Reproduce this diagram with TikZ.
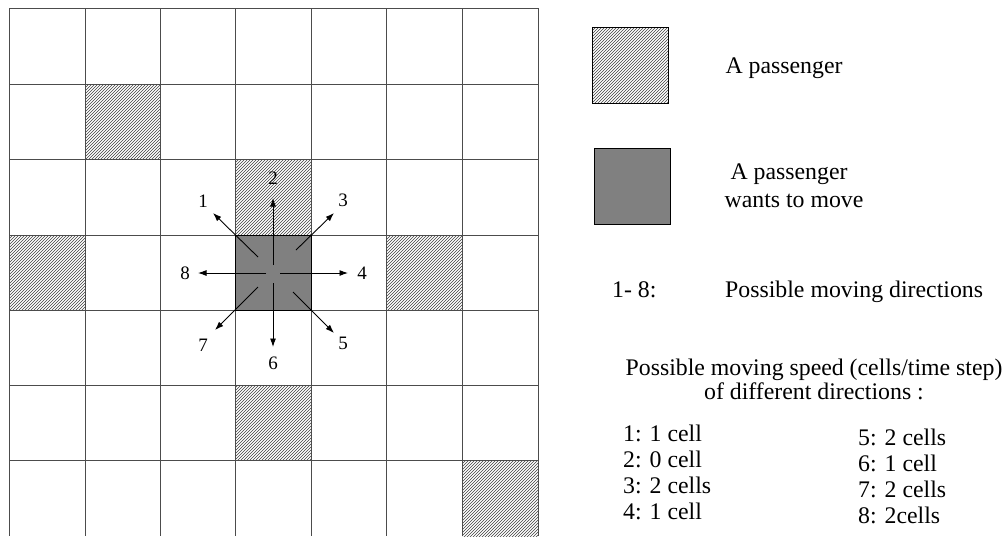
\documentclass[tikz,border=0pt]{standalone}
\usepackage{fontspec}
\setmainfont{Liberation Serif}
\usetikzlibrary{patterns,arrows.meta}
\begin{document}
\begin{tikzpicture}[x=1pt,y=-1pt,
  gridline/.style={draw=black!70, line width=0.9pt},
  hatchcell/.style={pattern=north east lines, pattern color=black!75},
  movecell/.style={fill=black!50},
  arr/.style={-{Latex[length=8.5pt,width=6pt]}, line width=0.9pt},
  dirlab/.style={font=\fontsize{19}{22}\selectfont, inner sep=0pt},
  legtext/.style={font=\fontsize{23.8}{28.5}\selectfont, inner sep=0pt},
  legbox/.style={draw=black, line width=0.8pt, minimum width=76pt, minimum height=76pt, inner sep=0pt},
]
\useasboundingbox (0,0) rectangle (1008,536);
% hatched cells (passengers)
\fill[hatchcell] (85,84) rectangle (160,159);
\fill[hatchcell] (235,159) rectangle (311,235);
\fill[hatchcell] (9,235) rectangle (85,310);
\fill[hatchcell] (386,235) rectangle (462,310);
\fill[hatchcell] (235,385) rectangle (311,460);
\fill[hatchcell] (462,460) rectangle (538,536);
% passenger that wants to move
\fill[movecell] (235,235) rectangle (311,310);
% grid
\foreach \x in {9,85,160,235,311,386,462,538} \draw[gridline] (\x,8) -- (\x,536);
\foreach \y in {8,84,159,235,310,385,460} \draw[gridline] (9,\y) -- (538,\y);
\draw[line width=0.9pt] (235,235) rectangle (311,310);
% arrows
\coordinate (c) at (273,272);
\coordinate (s1) at (258,257); \coordinate (e1) at (213,213);
\coordinate (s2) at (273,265); \coordinate (e2) at (273,198);
\coordinate (s3) at (296,250); \coordinate (e3) at (334,213);
\coordinate (s4) at (280,273); \coordinate (e4) at (348,273);
\coordinate (s5) at (293,292); \coordinate (e5) at (334,333);
\coordinate (s6) at (273,283); \coordinate (e6) at (273,347);
\coordinate (s7) at (258,287); \coordinate (e7) at (215,330);
\coordinate (s8) at (266,273); \coordinate (e8) at (198,273);
\foreach \i in {1,...,8} \draw[arr] (s\i) -- (e\i);
\node[dirlab] (d1) at (203,201) {1};
\node[dirlab] (d2) at (273,178) {2};
\node[dirlab] (d3) at (343,200) {3};
\node[dirlab] (d4) at (362,273) {4};
\node[dirlab] (d5) at (343,343) {5};
\node[dirlab] (d6) at (273,363) {6};
\node[dirlab] (d7) at (203,345) {7};
\node[dirlab] (d8) at (185,273) {8};
% legend
\node[legbox, hatchcell] (lb1) at (630,65) {};
\node[legtext, anchor=base] (lt1) at (784,73) {A passenger};
\node[legbox, fill=black!50] (lb2) at (632,186.5) {};
\node[legtext, anchor=base] (lt2a) at (789,179) {A passenger};
\node[legtext, anchor=base] (lt2b) at (794,207) {wants to move};
\node[legtext, anchor=base west] (l18) at (612,297) {1- 8:};
\node[legtext, anchor=base west] (ldir) at (725,297) {Possible moving directions};
\node[legtext, anchor=base] (lsp1) at (814,375) {Possible moving speed (cells/time step)};
\node[legtext, anchor=base] (lsp2) at (814,399) {of different directions :};
\node[legtext, anchor=base west] (v1) at (623,441) {1: 1 cell};
\node[legtext, anchor=base west] (v2) at (623,467) {2: 0 cell};
\node[legtext, anchor=base west] (v3) at (623,493) {3: 2 cells};
\node[legtext, anchor=base west] (v4) at (623,519) {4: 1 cell};
\node[legtext, anchor=base west] (v5) at (858,445) {5: 2 cells};
\node[legtext, anchor=base west] (v6) at (858,471) {6: 1 cell};
\node[legtext, anchor=base west] (v7) at (858,497) {7: 2 cells};
\node[legtext, anchor=base west] (v8) at (858,523) {8: 2cells};
\end{tikzpicture}
\end{document}
